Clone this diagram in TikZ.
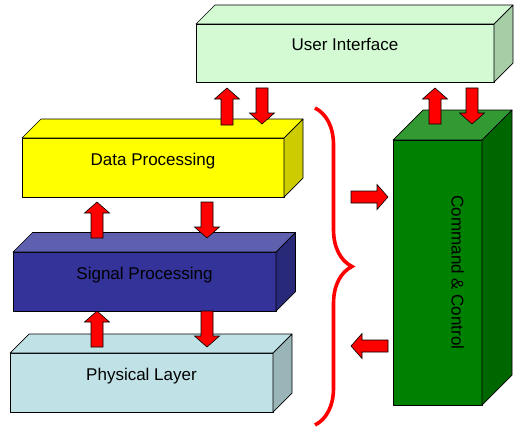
\documentclass[tikz,border=0pt]{standalone}
\usepackage{fontspec}
\setmainfont{Liberation Sans}
\usetikzlibrary{calc,positioning,decorations.pathreplacing}

\definecolor{uifront}{HTML}{D3FAD3}
\definecolor{uiside}{HTML}{A6CDA6}
\definecolor{dpfront}{HTML}{FFFF00}
\definecolor{dpside}{HTML}{CCCC00}
\definecolor{spfront}{HTML}{333399}
\definecolor{sptop}{HTML}{5F5FB0}
\definecolor{spside}{HTML}{29297A}
\definecolor{plfront}{HTML}{C0E2E6}
\definecolor{plside}{HTML}{99B5B8}
\definecolor{ccfront}{HTML}{008000}
\definecolor{cctop}{HTML}{339933}
\definecolor{ccside}{HTML}{006600}

\tikzset{
  face/.style={draw=black, line width=0.7pt, line join=round},
  slab/.style={face, inner sep=0pt, outer sep=0pt},
  lbl/.style={font=\fontsize{17}{20}\selectfont, inner sep=0pt, anchor=base},
  arrowface/.style={draw=black, line width=0.6pt, fill=red, line join=miter}
}

% top and side faces of a box: node, depth, top colour, side colour
\newcommand{\boxfaces}[4]{%
  \draw[face, fill=#3] (#1.north west) -- ++(#2,-#2) -- ($(#1.north east)+(#2,-#2)$) -- (#1.north east) -- cycle;
  \draw[face, fill=#4] (#1.north east) -- ++(#2,-#2) -- ($(#1.south east)+(#2,-#2)$) -- (#1.south east) -- cycle;
}

% fat red arrow between two named points
\newcommand{\fatarrow}[2]{%
  \draw[arrowface] let \p1=(#1), \p2=(#2),
    \n1={atan2((\y2)-(\y1),(\x2)-(\x1))}, \n2={veclen((\x2)-(\x1),(\y2)-(\y1))} in
    [shift={(\p1)}, rotate=\n1] (0pt,-6pt) -- (\n2-11pt,-6pt) -- (\n2-11pt,-12.5pt) -- (\n2,0pt)
    -- (\n2-11pt,12.5pt) -- (\n2-11pt,6pt) -- (0pt,6pt) -- cycle;
}

\begin{document}
\begin{tikzpicture}[x=1pt, y=-1pt]
    \useasboundingbox (0,0) rectangle (526,433);

    % draw boxes
    \node[slab, fill=uifront, minimum width=298pt, minimum height=58pt] (ui) at (345,53) {};
    \boxfaces{ui}{19}{uifront}{uiside}
    \node[slab, fill=dpfront, minimum width=262pt, minimum height=59pt] (dp) at (153,167.5) {};
    \boxfaces{dp}{19}{dpfront}{dpside}
    \node[slab, fill=spfront, minimum width=263pt, minimum height=59pt] (sp) at (144.5,281.5) {};
    \boxfaces{sp}{19.5}{sptop}{spside}
    \node[slab, fill=plfront, minimum width=263pt, minimum height=59pt] (pl) at (141.5,382.5) {};
    \boxfaces{pl}{19}{plfront}{plside}
    \node[slab, fill=ccfront, minimum width=89pt, minimum height=265pt] (cc) at (437.5,272.5) {};
    \boxfaces{cc}{30}{cctop}{ccside}

    % draw labels
    \node[lbl] (uitext) at ([yshift=2.5pt]ui.center) {User Interface};
    \node[lbl] (dptext) at ([yshift=2.5pt]dp.center) {Data Processing};
    \node[lbl] (sptext) at ([yshift=2.5pt]sp.center) {Signal Processing};
    \node[lbl] (pltext) at ([yshift=2.5pt]pl.center) {Physical Layer};
    \node[lbl, rotate=-90] (cctext) at ([xshift=14pt]cc.center) {Command \& Control};

    % arrow ends
    \coordinate (dpup) at (227,125);   \coordinate (uidl) at (227,88);
    \coordinate (uiout) at (262,88);   \coordinate (dpin) at (262,124);
    \coordinate (ccup) at (435,124);   \coordinate (uidr) at (435,88);
    \coordinate (uiccout) at (472,88); \coordinate (ccin) at (472,124);
    \coordinate (spup) at (97,238);    \coordinate (dpbl) at (97,202);
    \coordinate (dpout) at (207,202);  \coordinate (spin) at (207,238);
    \coordinate (plup) at (97,347);    \coordinate (spbl) at (97,311);
    \coordinate (spout) at (207,311);  \coordinate (plin) at (207,347);
    \coordinate (brout) at (351,197);  \coordinate (ccleft) at (388,197);
    \coordinate (ccout) at (388,346);  \coordinate (brin) at (351,346);

    % draw arrows
    \foreach \a/\b in {dpup/uidl, uiout/dpin, ccup/uidr, uiccout/ccin, spup/dpbl,
                       dpout/spin, plup/spbl, spout/plin, brout/ccleft, ccout/brin}
      {\fatarrow{\a}{\b}}

    % draw brace
    \draw[red, line width=3.6pt, decorate, decoration={brace, amplitude=37pt}] (315,108) -- (315,425);

\end{tikzpicture}
\end{document}
